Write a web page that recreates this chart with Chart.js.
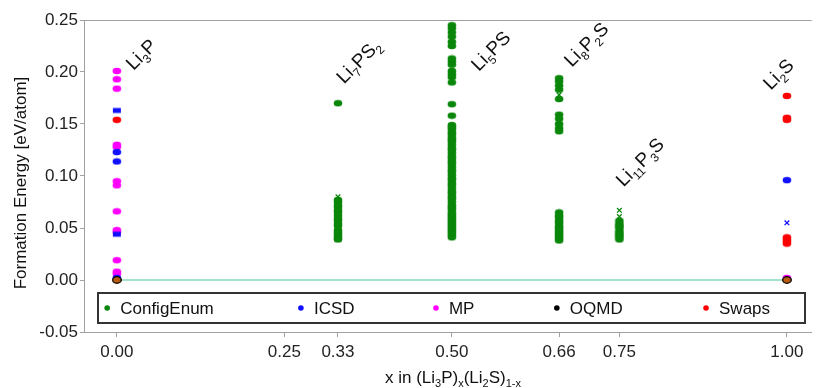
<!DOCTYPE html>
<html>
<head>
<meta charset="utf-8">
<script src="https://cdn.jsdelivr.net/npm/chart.js@4.4.1/dist/chart.umd.min.js"></script>
<style>
  body { margin: 0; background: #fff; }
  canvas { display: block; }
</style>
</head>
<body>
<canvas id="chart" width="817" height="388"></canvas>
<script>
// compositions x in (Li3P)x(Li2S)1-x
const compNames = ["Li3P", "Li7PS2", "Li5PS", "Li8P2S", "Li11P3S", "Li2S"];
const compX = [0, 0.33, 0.5, 0.66, 0.75, 1.0];
const xTicks = [0, 0.25, 0.33, 0.5, 0.66, 0.75, 1.0];
const yTicks = [-0.05, 0, 0.05, 0.1, 0.15, 0.2, 0.25];

// ConfigEnum (green) circles
const ceLi7PS2 = [0.170, 0.077, 0.075, 0.072, 0.070, 0.067, 0.065, 0.062, 0.059, 0.057, 0.054, 0.052, 0.048, 0.046, 0.044, 0.042, 0.040, 0.039];
const ceLi5PS = [0.245, 0.242, 0.238, 0.234, 0.229, 0.225, 0.213, 0.210, 0.207, 0.201, 0.198, 0.195, 0.190, 0.169, 0.158,
  0.149, 0.147, 0.145, 0.142, 0.140, 0.137, 0.135, 0.133, 0.130, 0.127, 0.125, 0.122, 0.119, 0.117, 0.114, 0.112, 0.109,
  0.106, 0.104, 0.101, 0.098, 0.096, 0.093, 0.091, 0.088, 0.085, 0.083, 0.080, 0.078, 0.075, 0.072, 0.070, 0.068, 0.065,
  0.063, 0.061, 0.059, 0.057, 0.055, 0.053, 0.051, 0.049, 0.047, 0.045, 0.043, 0.041];
const ceLi8P2S = [0.194, 0.191, 0.187, 0.183, 0.174, 0.159, 0.155, 0.150, 0.146, 0.143,
  0.065, 0.062, 0.060, 0.057, 0.055, 0.052, 0.050, 0.048, 0.046, 0.044, 0.042, 0.040, 0.038];
const ceLi11P3S = [0.057, 0.054, 0.052, 0.050, 0.047, 0.045, 0.043, 0.041, 0.039];
// ConfigEnum crosses
const ceCrossLi7PS2 = [0.080, 0.050];
const ceCrossLi8P2S = [0.178];
const ceCrossLi11P3S = [0.067, 0.061];

// ICSD (blue)
const icsdLi3P = [0.123, 0.114, 0.002];
const icsdRectLi3P = [0.163, 0.044];
const icsdLi2S = [0.096];
const icsdCrossLi2S = [0.055];

// MP (magenta)
const mpLi3P = [0.201, 0.193, 0.184, 0.130, 0.128, 0.095, 0.091, 0.066, 0.048, 0.046, 0.019, 0.008, 0.006];
const mpLi2S = [0.002];

// OQMD (black)
const oqmdLi3P = [0.0];
const oqmdLi2S = [0.0];

// Swaps (red)
const swapsLi3P = [0.154];
const swapsLi2S = [0.177, 0.156, 0.154, 0.041, 0.039, 0.037, 0.035];

const legendNames = ["ConfigEnum", "ICSD", "MP", "OQMD", "Swaps"];
const legendColors = ["#0a870a", "#1010ff", "#ff00ff", "#000000", "#ff0000"];

const FONT = "'Liberation Sans', Arial, sans-serif";
const col = (x, ys) => ys.map(y => ({ x: x, y: y }));

// slightly wide markers, like the original plot
function marker(fill, shape, stroke) {
  const c = document.createElement("canvas");
  c.width = 10; c.height = 8;
  const g = c.getContext("2d");
  g.fillStyle = fill;
  if (shape === "rect") {
    g.fillRect(1, 1.5, 8, 5);
  } else {
    g.beginPath();
    g.ellipse(5, 4, 4.3, 3.3, 0, 0, Math.PI * 2);
    g.fill();
    if (stroke) {
      g.strokeStyle = stroke;
      g.lineWidth = 1.3;
      g.stroke();
    }
  }
  return c;
}

function dots(data, img, extra) {
  return Object.assign({
    data: data,
    pointStyle: img,
    pointRadius: 4,
    showLine: false
  }, extra || {});
}

function crosses(data, color) {
  return {
    data: data,
    pointStyle: "crossRot",
    pointRadius: 3.3,
    pointBorderWidth: 1.3,
    pointBorderColor: color,
    showLine: false,
    order: -1
  };
}

const datasets = [
  {
    data: [{ x: 0, y: 0 }, { x: 1, y: 0 }],
    showLine: true,
    borderColor: "#86d9bd",
    borderWidth: 1.5,
    pointRadius: 0,
    order: 10
  },
  dots([].concat(col(compX[1], ceLi7PS2), col(compX[2], ceLi5PS), col(compX[3], ceLi8P2S), col(compX[4], ceLi11P3S)), marker(legendColors[0])),
  crosses([].concat(col(compX[1], ceCrossLi7PS2), col(compX[3], ceCrossLi8P2S), col(compX[4], ceCrossLi11P3S)), legendColors[0]),
  dots([].concat(col(compX[0], icsdLi3P), col(compX[5], icsdLi2S)), marker(legendColors[1])),
  dots(col(compX[0], icsdRectLi3P), marker(legendColors[1], "rect")),
  crosses(col(compX[5], icsdCrossLi2S), legendColors[1]),
  dots([].concat(col(compX[0], mpLi3P), col(compX[5], mpLi2S)), marker(legendColors[2])),
  dots([].concat(col(compX[0], swapsLi3P), col(compX[5], swapsLi2S)), marker(legendColors[4])),
  dots([].concat(col(compX[0], oqmdLi3P), col(compX[5], oqmdLi2S)), marker("#b85a10", "circle", "#000"), { order: -2 })
];

// parse "Li11P3S" into [text, isSub] parts
function formulaParts(name) {
  const parts = [];
  const re = /([A-Za-z()]+)|([0-9]+)/g;
  let m;
  while ((m = re.exec(name)) !== null) {
    if (m[1]) parts.push([m[1], false]);
    else parts.push([m[2], true]);
  }
  return parts;
}

function drawParts(ctx, parts, x, y, size, subSize, subDrop) {
  let cx = x;
  parts.forEach(p => {
    ctx.font = (p[1] ? subSize : size) + "px " + FONT;
    ctx.fillText(p[0], cx, p[1] ? y + subDrop : y);
    cx += ctx.measureText(p[0]).width;
  });
  return cx;
}

function partsWidth(ctx, parts, size, subSize) {
  let w = 0;
  parts.forEach(p => {
    ctx.font = (p[1] ? subSize : size) + "px " + FONT;
    w += ctx.measureText(p[0]).width;
  });
  return w;
}

// label anchors (data units) for the rotated formula labels
const labelAnchorX = [0.025, 0.339, 0.540, 0.679, 0.756, 0.976];
const labelAnchorY = [0.201, 0.188, 0.200, 0.204, 0.089, 0.182];

const extras = {
  id: "extras",
  beforeDatasetsDraw(chart) {
    const { ctx, chartArea } = chart;
    ctx.save();
    ctx.strokeStyle = "#a0a0a0";
    ctx.lineWidth = 1;
    ctx.beginPath();
    ctx.moveTo(chartArea.left, chartArea.top + 0.5);
    ctx.lineTo(chartArea.right, chartArea.top + 0.5);
    ctx.stroke();
    ctx.restore();
  },
  afterDatasetsDraw(chart) {
    const { ctx, chartArea, scales } = chart;
    const xs = scales.x, ys = scales.y;
    ctx.save();
    ctx.fillStyle = "#111";
    ctx.textBaseline = "alphabetic";
    ctx.textAlign = "left";

    // rotated formula labels
    compNames.forEach((name, i) => {
      const px = xs.getPixelForValue(labelAnchorX[i]);
      const py = ys.getPixelForValue(labelAnchorY[i]);
      ctx.save();
      ctx.translate(px, py);
      ctx.rotate(-Math.PI / 4);
      drawParts(ctx, formulaParts(name), 0, 0, 19, 12, 5);
      ctx.restore();
    });

    // legend box
    const bx = chartArea.left + 14, bw = 707;
    const by = chartArea.bottom - 39, bh = 30;
    ctx.fillStyle = "#fff";
    ctx.fillRect(bx, by, bw, bh);
    ctx.strokeStyle = "#333";
    ctx.lineWidth = 2;
    ctx.strokeRect(bx, by, bw, bh);
    const itemPos = [0.013, 0.287, 0.478, 0.649, 0.860];
    ctx.textBaseline = "middle";
    ctx.font = "17px " + FONT;
    legendNames.forEach((n, i) => {
      const mx = bx + itemPos[i] * bw;
      const my = by + bh / 2;
      ctx.fillStyle = legendColors[i];
      ctx.beginPath();
      ctx.arc(mx, my, 2.8, 0, Math.PI * 2);
      ctx.fill();
      ctx.fillStyle = "#111";
      ctx.fillText(n, mx + 13, my + 1);
    });

    // y axis title
    ctx.save();
    ctx.translate(21, (chartArea.top + chartArea.bottom) / 2 + 7);
    ctx.rotate(-Math.PI / 2);
    ctx.textAlign = "center";
    ctx.textBaseline = "middle";
    ctx.font = "17px " + FONT;
    ctx.fillStyle = "#111";
    ctx.fillText("Formation Energy [eV/atom]", 0, 0);
    ctx.restore();

    // x axis title with subscripts
    const titleParts = [["x in (Li", false], ["3", true], ["P)", false], ["x", true], ["(Li", false], ["2", true], ["S)", false], ["1-x", true]];
    ctx.textBaseline = "alphabetic";
    ctx.textAlign = "left";
    ctx.fillStyle = "#111";
    const tw = partsWidth(ctx, titleParts, 17, 11);
    drawParts(ctx, titleParts, 453 - tw / 2, 383, 17, 11, 4);
    ctx.restore();
  }
};

const ctx = document.getElementById("chart").getContext("2d");
new Chart(ctx, {
  type: "scatter",
  data: { datasets: datasets },
  options: {
    responsive: false,
    animation: false,
    layout: { padding: { top: 20, right: 0, left: 0, bottom: 0 } },
    plugins: { legend: { display: false }, tooltip: { enabled: false } },
    scales: {
      x: {
        type: "linear",
        min: -0.049,
        max: 1.037,
        afterBuildTicks: s => { s.ticks = xTicks.map(v => ({ value: v })); },
        afterFit: s => { s.height = 56; },
        ticks: {
          callback: v => v.toFixed(2),
          font: { size: 17, family: FONT },
          color: "#222",
          padding: 5,
          maxRotation: 0,
          autoSkip: false
        },
        grid: { drawOnChartArea: false, tickLength: 5, color: "#a0a0a0" },
        border: { color: "#a0a0a0" }
      },
      y: {
        min: -0.05,
        max: 0.25,
        afterBuildTicks: s => { s.ticks = yTicks.map(v => ({ value: v })); },
        afterFit: s => { s.width = 84; },
        ticks: {
          callback: v => v.toFixed(2),
          font: { size: 17, family: FONT },
          color: "#222",
          padding: 2
        },
        grid: { drawOnChartArea: false, tickLength: 4, color: "#a0a0a0" },
        border: { color: "#a0a0a0" }
      }
    }
  },
  plugins: [extras]
});
</script>
</body>
</html>
